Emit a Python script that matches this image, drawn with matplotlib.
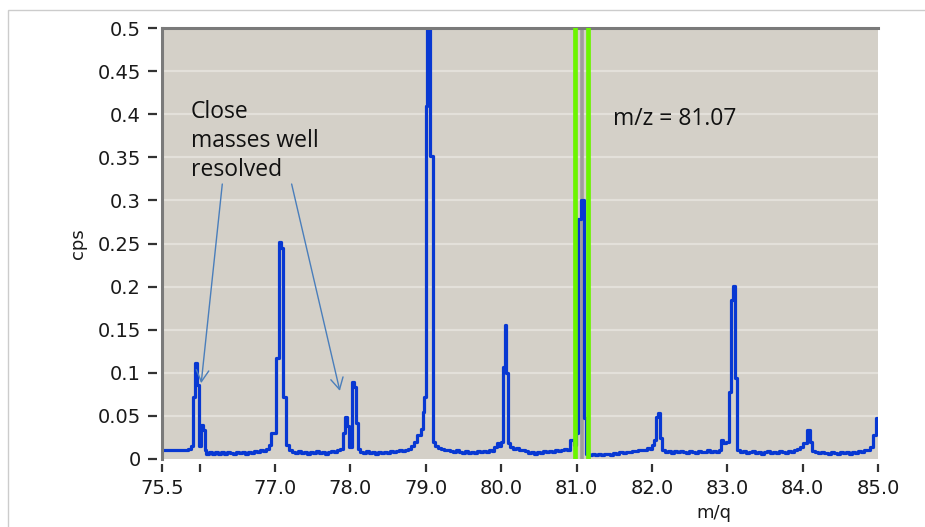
import matplotlib
matplotlib.use('Agg')
import matplotlib.pyplot as plt
from matplotlib.patches import Rectangle

# spectrum (step values)
mq = [75.50, 75.55, 75.60, 75.65, 75.70, 75.75, 75.80, 75.85, 75.88, 75.91,
      75.94, 75.965, 75.985, 76.02, 76.045, 76.065, 76.08, 76.12, 76.16, 76.20,
      76.24, 76.28, 76.32, 76.36, 76.40, 76.44, 76.48, 76.52, 76.56, 76.60,
      76.64, 76.68, 76.72, 76.76, 76.80, 76.84, 76.88, 76.92, 76.95, 77.015,
      77.05, 77.085, 77.10, 77.15, 77.18, 77.22, 77.26, 77.30, 77.34, 77.38,
      77.42, 77.46, 77.50, 77.54, 77.58, 77.62, 77.66, 77.70, 77.74, 77.78,
      77.82, 77.86, 77.90, 77.93, 77.955, 77.975, 78.02, 78.05, 78.075, 78.10,
      78.13, 78.17, 78.21, 78.25, 78.29, 78.33, 78.37, 78.41, 78.45, 78.49,
      78.53, 78.57, 78.61, 78.65, 78.69, 78.73, 78.77, 78.81, 78.85, 78.89,
      78.93, 78.96, 78.98, 79.00, 79.02, 79.06, 79.09, 79.12, 79.16, 79.20,
      79.24, 79.28, 79.32, 79.36, 79.40, 79.44, 79.48, 79.52, 79.56, 79.60,
      79.64, 79.68, 79.72, 79.76, 79.80, 79.84, 79.88, 79.91, 79.94, 79.97,
      80.00, 80.025, 80.05, 80.07, 80.095, 80.12, 80.16, 80.20, 80.24, 80.28,
      80.32, 80.36, 80.40, 80.44, 80.48, 80.52, 80.56, 80.60, 80.64, 80.68,
      80.72, 80.76, 80.80, 80.84, 80.88, 80.92, 80.96, 80.99, 81.02, 81.06,
      81.10, 81.13, 81.17, 81.21, 81.25, 81.29, 81.33, 81.37, 81.41, 81.45,
      81.49, 81.53, 81.57, 81.61, 81.65, 81.69, 81.73, 81.77, 81.81, 81.85,
      81.89, 81.93, 81.97, 82.00, 82.03, 82.05, 82.08, 82.11, 82.13, 82.17,
      82.21, 82.25, 82.29, 82.33, 82.37, 82.41, 82.45, 82.49, 82.53, 82.57,
      82.61, 82.65, 82.69, 82.73, 82.77, 82.81, 82.85, 82.89, 82.92, 82.95,
      82.98, 83.02, 83.045, 83.075, 83.105, 83.13, 83.17, 83.21, 83.25, 83.29,
      83.33, 83.37, 83.41, 83.45, 83.49, 83.53, 83.57, 83.61, 83.65, 83.69,
      83.73, 83.77, 83.81, 83.85, 83.89, 83.93, 83.96, 84.00, 84.06, 84.10,
      84.13, 84.17, 84.21, 84.25, 84.29, 84.33, 84.37, 84.41, 84.45, 84.49,
      84.53, 84.57, 84.61, 84.65, 84.69, 84.73, 84.77, 84.81, 84.85, 84.89,
      84.93, 84.98, 85.00]
cps = [0.010, 0.011, 0.010, 0.011, 0.010, 0.011, 0.010, 0.012, 0.015, 0.072,
       0.111, 0.086, 0.015, 0.040, 0.034, 0.010, 0.006, 0.008, 0.006, 0.008,
       0.006, 0.008, 0.006, 0.008, 0.007, 0.006, 0.008, 0.007, 0.008, 0.006,
       0.008, 0.007, 0.009, 0.008, 0.010, 0.009, 0.012, 0.016, 0.030, 0.117,
       0.252, 0.245, 0.072, 0.016, 0.010, 0.008, 0.007, 0.009, 0.007, 0.008,
       0.006, 0.008, 0.007, 0.009, 0.007, 0.008, 0.006, 0.008, 0.009, 0.008,
       0.010, 0.012, 0.030, 0.049, 0.038, 0.014, 0.089, 0.083, 0.042, 0.012,
       0.008, 0.007, 0.009, 0.007, 0.008, 0.006, 0.008, 0.007, 0.008, 0.007,
       0.009, 0.008, 0.009, 0.010, 0.009, 0.011, 0.012, 0.015, 0.020, 0.028,
       0.035, 0.055, 0.072, 0.410, 0.600, 0.352, 0.020, 0.015, 0.013, 0.012,
       0.010, 0.011, 0.009, 0.008, 0.010, 0.008, 0.007, 0.009, 0.007, 0.008,
       0.007, 0.009, 0.008, 0.009, 0.008, 0.010, 0.009, 0.014, 0.018, 0.015,
       0.020, 0.107, 0.155, 0.100, 0.018, 0.014, 0.012, 0.013, 0.011, 0.010,
       0.009, 0.007, 0.008, 0.006, 0.008, 0.007, 0.009, 0.008, 0.009, 0.008,
       0.010, 0.009, 0.010, 0.012, 0.011, 0.022, 0.016, 0.030, 0.278, 0.301,
       0.048, 0.006, 0.005, 0.006, 0.005, 0.006, 0.005, 0.006, 0.006, 0.005,
       0.007, 0.006, 0.008, 0.007, 0.008, 0.008, 0.009, 0.009, 0.010, 0.011,
       0.010, 0.013, 0.012, 0.016, 0.022, 0.049, 0.053, 0.024, 0.011, 0.008,
       0.009, 0.007, 0.009, 0.008, 0.009, 0.008, 0.007, 0.009, 0.008, 0.007,
       0.009, 0.008, 0.008, 0.010, 0.008, 0.009, 0.008, 0.010, 0.022, 0.018,
       0.020, 0.078, 0.185, 0.201, 0.094, 0.011, 0.008, 0.009, 0.007, 0.008,
       0.009, 0.007, 0.008, 0.006, 0.008, 0.009, 0.007, 0.008, 0.007, 0.009,
       0.008, 0.007, 0.009, 0.008, 0.010, 0.012, 0.014, 0.018, 0.034, 0.020,
       0.009, 0.008, 0.007, 0.008, 0.007, 0.006, 0.008, 0.007, 0.006, 0.008,
       0.007, 0.008, 0.006, 0.008, 0.007, 0.009, 0.008, 0.010, 0.011, 0.014,
       0.028, 0.048, 0.048]

x_ticks = [75.5, 76.0, 77.0, 78.0, 79.0, 80.0, 81.0, 82.0, 83.0, 84.0, 85.0]
x_labels = ['75.5', '', '77.0', '78.0', '79.0', '80.0', '81.0', '82.0', '83.0', '84.0', '85.0']
y_ticks = [0, 0.05, 0.1, 0.15, 0.2, 0.25, 0.3, 0.35, 0.4, 0.45, 0.5]
y_labels = ['0', '0.05', '0.1', '0.15', '0.2', '0.25', '0.3', '0.35', '0.4', '0.45', '0.5']

window_edges = [80.98, 81.15]
window_center = 81.075

fig = plt.figure(figsize=(9.25, 5.27), dpi=100)
fig.patch.set_facecolor('white')
# light frame around the picture
fig.add_artist(Rectangle((8 / 925, -0.05), 1.2, 1 - 10 / 527 + 0.05,
                         transform=fig.transFigure, fill=False,
                         ec='#cccccc', lw=1))

ax = fig.add_axes([162 / 925, 1 - 459 / 527, 716 / 925, 431 / 527])
ax.set_facecolor('#d4d0c8')
ax.set_xlim(75.5, 85.0)
ax.set_ylim(0, 0.5)

for yv in y_ticks[1:-1]:
    ax.axhline(yv, color='#e3e0da', lw=1.6, zorder=0)

# gated mass window
ax.axvline(window_center, color='#a09c9c', lw=2.6, zorder=1)
ax.step(mq, cps, where='post', color='#0838d2', lw=2.3, zorder=2)
for xv in window_edges:
    ax.axvline(xv, color='#6cf500', lw=3.4, zorder=3)

# ticks sit a little away from the plot area
for side in ['left', 'bottom']:
    ax.spines[side].set_position(('outward', 3.6))
    ax.spines[side].set_visible(False)
ax.spines['right'].set_visible(False)
ax.spines['top'].set_color('#7a7a7a')
ax.spines['top'].set_linewidth(2.2)
ax.plot([0, 0], [0, 1], transform=ax.transAxes, color='#7a7a7a', lw=2.2,
        clip_on=False, zorder=5)

ax.set_xticks(x_ticks)
ax.set_xticklabels(x_labels)
ax.set_yticks(y_ticks)
ax.set_yticklabels(y_labels)
ax.tick_params(axis='y', length=6.5, width=1.6, color='#333333', pad=5,
               labelsize=14, labelcolor='#1a1a1a')
ax.tick_params(axis='x', length=6, width=1.6, color='#333333', pad=4.5,
               labelsize=14, labelcolor='#1a1a1a')

ax.set_ylabel('cps', fontsize=13, color='#1a1a1a', labelpad=8)
ax.set_xlabel('m/q', fontsize=13, color='#1a1a1a')
ax.xaxis.set_label_coords(0.771, -0.105)

# annotations
ax.text(75.885, 0.416, 'Close\nmasses well\nresolved', family='Open Sans',
        fontsize=16.5, color='#111111', va='top', ha='left', linespacing=1.28)
ax.text(81.48, 0.394, 'm/z = 81.07', family='Open Sans', fontsize=16.5,
        color='#111111', va='center', ha='left')
arrow = dict(arrowstyle='->,head_length=0.55,head_width=0.3', color='#4a7ebb',
             lw=1.0, shrinkA=0, shrinkB=0, mutation_scale=15)
ax.annotate('', xy=(76.02, 0.088), xytext=(76.30, 0.319), arrowprops=arrow)
ax.annotate('', xy=(77.86, 0.079), xytext=(77.22, 0.319), arrowprops=arrow)

plt.savefig('out.png', dpi=100)
plt.close()
